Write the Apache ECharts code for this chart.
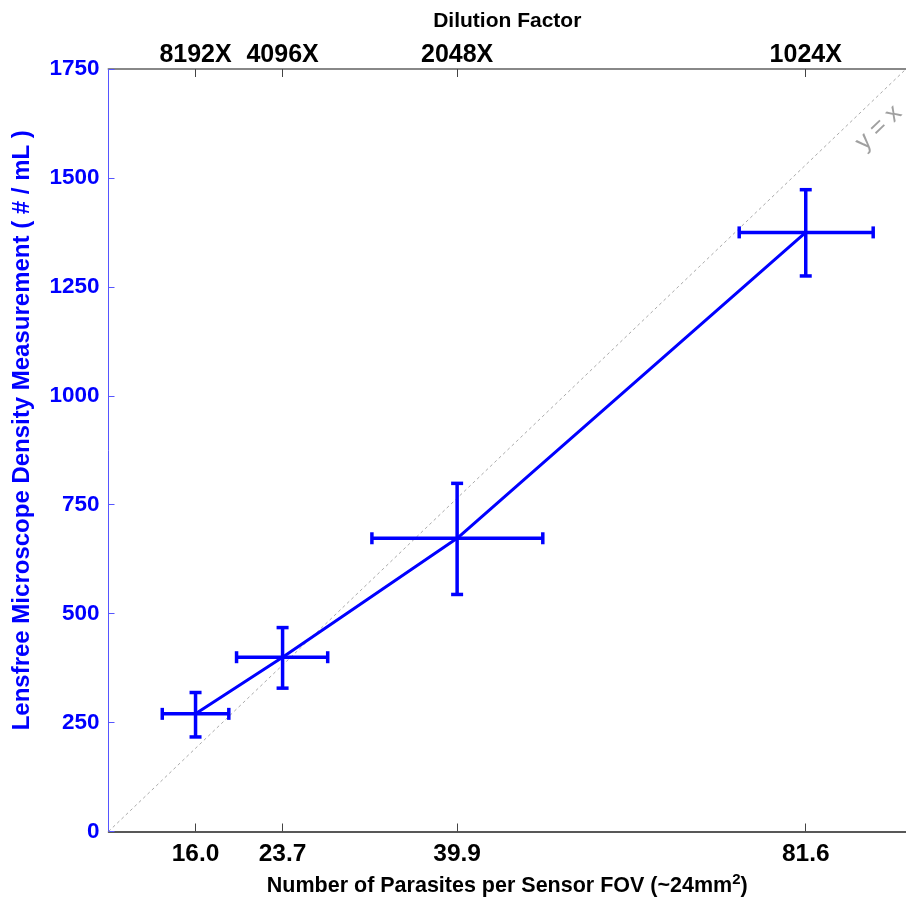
<!DOCTYPE html>
<html>
<head>
<meta charset="utf-8">
<script src="https://cdn.jsdelivr.net/npm/echarts@6/dist/echarts.min.js"></script>
<style>
html,body{margin:0;padding:0;background:#fff;}
#chart{width:906px;height:902px;}
</style>
</head>
<body>
<div id="chart"></div>
<script>
// ---- data ----
var dilutionLabels = ['8192X', '4096X', '2048X', '1024X'];
var parasiteCountLabels = ['16.0', '23.7', '39.9', '81.6'];
var expectedDensity = [191, 382, 765, 1530];      // x (#/mL)
var measuredDensity = [270, 400, 673, 1375];      // y (#/mL)
var xErrLow  = [118, 281, 578, 1384];
var xErrHigh = [264, 481, 953, 1678];
var yErrLow  = [217, 329, 544, 1275];
var yErrHigh = [319, 468, 799, 1473];
var identityLine = [[0, 0], [1750, 1750]];
var identityLabelAt = [1690, 1615];

var FONT = "'Liberation Sans', Arial, sans-serif";
var BLUE = '#0000ff';

var errData = expectedDensity.map(function (x, i) {
  return [x, measuredDensity[i], xErrLow[i], xErrHigh[i], yErrLow[i], yErrHigh[i]];
});
var lineData = expectedDensity.map(function (x, i) { return [x, measuredDensity[i]]; });

function labelFor(list) {
  return function (v) {
    var idx = 0, best = Infinity;
    for (var i = 0; i < expectedDensity.length; i++) {
      var d = Math.abs(expectedDensity[i] - v);
      if (d < best) { best = d; idx = i; }
    }
    return list[idx];
  };
}

var chart = echarts.init(document.getElementById('chart'));
chart.setOption({
  animation: false,
  backgroundColor: '#ffffff',
  grid: { left: 108.5, right: 0, top: 69, bottom: 66, containLabel: false },
  xAxis: [{
    type: 'value', position: 'bottom', min: 0, max: 1750,
    name: 'Number of Parasites per Sensor FOV (~24mm{sup|2})',
    nameLocation: 'middle', nameGap: 41,
    nameTextStyle: {
      color: '#000', fontFamily: FONT, fontWeight: 'bold', fontSize: 21.5,
      rich: { sup: { fontFamily: FONT, fontWeight: 'bold', fontSize: 15, color: '#000', verticalAlign: 'top', padding: [0, 0, 12, 0] } }
    },
    axisLine: { show: true, onZero: false, lineStyle: { color: '#222', width: 1.5 } },
    axisTick: { show: true, inside: true, length: 8, customValues: expectedDensity, lineStyle: { color: '#444', width: 1 } },
    axisLabel: { show: true, customValues: expectedDensity, formatter: labelFor(parasiteCountLabels), margin: 10,
      color: '#000', fontFamily: FONT, fontWeight: 'bold', fontSize: 24.5 },
    splitLine: { show: false }
  }, {
    type: 'value', position: 'top', min: 0, max: 1750,
    name: 'Dilution Factor', nameLocation: 'middle', nameGap: 37,
    nameTextStyle: { color: '#000', fontFamily: FONT, fontWeight: 'bold', fontSize: 21 },
    axisLine: { show: true, onZero: false, lineStyle: { color: '#888', width: 2 } },
    axisTick: { show: true, inside: true, length: 8, customValues: expectedDensity, lineStyle: { color: '#444', width: 1 } },
    axisLabel: { show: true, customValues: expectedDensity, formatter: labelFor(dilutionLabels), margin: 1,
      color: '#000', fontFamily: FONT, fontWeight: 'bold', fontSize: 25 },
    splitLine: { show: false }
  }],
  yAxis: {
    type: 'value', min: 0, max: 1750, interval: 250,
    name: 'Lensfree Microscope Density Measurement ( # / mL )',
    nameLocation: 'middle', nameGap: 74, nameRotate: 90,
    nameTextStyle: { color: BLUE, fontFamily: FONT, fontWeight: 'bold', fontSize: 24, padding: [0, 0, 0, 40] },
    axisLine: { show: true, onZero: false, lineStyle: { color: '#5555ff', width: 1 } },
    axisTick: { show: true, inside: true, length: 6, lineStyle: { color: '#5555ff', width: 1 } },
    axisLabel: { show: true, margin: 9, color: BLUE, fontFamily: FONT, fontWeight: 'bold', fontSize: 22.5,
      formatter: function (v) { return String(v); } },
    splitLine: { show: false }
  },
  series: [{
    type: 'line', name: 'y = x', data: identityLine, xAxisIndex: 0,
    symbol: 'none', silent: true,
    lineStyle: { color: '#aaaaaa', width: 1, type: [3, 3] }, z: 1
  }, {
    type: 'scatter', data: [identityLabelAt], symbolSize: 0, silent: true,
    label: { show: true, position: 'inside', formatter: 'y = x', rotate: 44,
      color: '#888888', fontFamily: FONT, fontSize: 25 }, z: 2
  }, {
    type: 'line', data: lineData, xAxisIndex: 0, symbol: 'none',
    lineStyle: { color: BLUE, width: 3 }, z: 3
  }, {
    type: 'custom', data: errData, xAxisIndex: 0, z: 4,
    renderItem: function (params, api) {
      var x = api.value(0), y = api.value(1);
      var c = api.coord([x, y]);
      var l = api.coord([api.value(2), y]), r = api.coord([api.value(3), y]);
      var lo = api.coord([x, api.value(4)]), hi = api.coord([x, api.value(5)]);
      var cap = 6;
      var st = { stroke: BLUE, lineWidth: 3.5, fill: null };
      function seg(x1, y1, x2, y2) { return { type: 'line', shape: { x1: x1, y1: y1, x2: x2, y2: y2 }, style: st }; }
      return { type: 'group', children: [
        seg(l[0], c[1], r[0], c[1]),
        seg(c[0], hi[1], c[0], lo[1]),
        seg(l[0], c[1] - cap, l[0], c[1] + cap),
        seg(r[0], c[1] - cap, r[0], c[1] + cap),
        seg(c[0] - cap, hi[1], c[0] + cap, hi[1]),
        seg(c[0] - cap, lo[1], c[0] + cap, lo[1])
      ] };
    }
  }]
});
</script>
</body>
</html>
